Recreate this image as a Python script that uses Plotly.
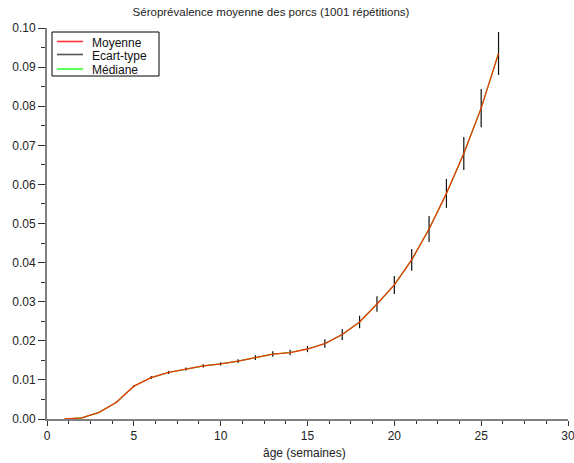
import plotly.graph_objects as go

weeks = list(range(1, 27))
moyenne = [0.0000, 0.0003, 0.0017, 0.0043, 0.0084, 0.0106, 0.0119, 0.0128, 0.0136, 0.0141,
           0.0148, 0.0157, 0.0166, 0.0170, 0.0179, 0.0193, 0.0216, 0.0248, 0.0294, 0.0343,
           0.0407, 0.0486, 0.0577, 0.0679, 0.0795, 0.0935]
mediane = [0.0000, 0.0003, 0.0017, 0.0043, 0.0084, 0.0106, 0.0119, 0.0128, 0.0136, 0.0141,
           0.0148, 0.0157, 0.0166, 0.0170, 0.0179, 0.0193, 0.0216, 0.0248, 0.0294, 0.0343,
           0.0407, 0.0486, 0.0577, 0.0679, 0.0795, 0.0935]
ecart_type = [0.0000, 0.0001, 0.0001, 0.0002, 0.0003, 0.0004, 0.0004, 0.0004, 0.0004, 0.0004,
              0.0005, 0.0006, 0.0007, 0.0007, 0.0008, 0.0011, 0.0014, 0.0016, 0.0020, 0.0023,
              0.0028, 0.0033, 0.0037, 0.0042, 0.0049, 0.0055]

legend_labels = ["Moyenne", "Ecart-type", "Médiane"]
legend_colors = ["#ff3333", "#555555", "#33ff33"]

# error-bar segments built from data
ex, ey = [], []
for w, m, s in zip(weeks, moyenne, ecart_type):
    ex += [w, w, None]
    ey += [m - s, m + s, None]

fig = go.Figure()
fig.add_trace(go.Scatter(x=weeks, y=mediane, mode="lines", name="Médiane",
                         line=dict(color="#22cc00", width=1.2), showlegend=False))
fig.add_trace(go.Scatter(x=ex, y=ey, mode="lines", name="Ecart-type",
                         line=dict(color="#111111", width=1.2), showlegend=False))
fig.add_trace(go.Scatter(x=weeks, y=moyenne, mode="lines", name="Moyenne",
                         line=dict(color="#ee3a0c", width=1.3), showlegend=False))

W, H = 574, 463
L, R, T, B = 47, 6, 28, 44
PW, PH = W - L - R, H - T - B


def px(x):
    return (x - L) / PW


def py(y):
    return (H - B - y) / PH


font = "Liberation Sans, Arial, sans-serif"
shapes = [dict(type="rect", xref="paper", yref="paper", x0=px(52), x1=px(159),
               y0=py(76), y1=py(32), line=dict(color="#000", width=1),
               fillcolor="white", layer="above")]
annotations = []
line_rows = [41.5, 54.5, 69]
text_rows = [43.5, 56.5, 70]
for lab, col, lr, tr in zip(legend_labels, legend_colors, line_rows, text_rows):
    shapes.append(dict(type="line", xref="paper", yref="paper", x0=px(57), x1=px(83),
                       y0=py(lr), y1=py(lr), line=dict(color=col, width=1.6), layer="above"))
    annotations.append(dict(text=lab, xref="paper", yref="paper", x=px(90), y=py(tr),
                            xanchor="left", yanchor="middle", showarrow=False,
                            font=dict(size=12, color="#111", family=font)))
annotations.append(dict(text="âge (semaines)", xref="paper", yref="paper",
                        x=px(304), y=py(453), xanchor="center", yanchor="middle",
                        showarrow=False, font=dict(size=12, color="#222", family=font)))

fig.update_layout(
    width=W, height=H, autosize=False,
    margin=dict(l=L, r=R, t=T, b=B, pad=0),
    paper_bgcolor="white", plot_bgcolor="white",
    font=dict(family=font, size=12, color="#222"),
    title=dict(text="Séroprévalence moyenne des porcs (1001 répétitions)",
               x=271 / W, xanchor="center", xref="container",
               y=1 - 12 / H, yanchor="middle", yref="container",
               font=dict(size=11.5, color="#222")),
    showlegend=False,
    shapes=shapes,
    annotations=annotations,
    xaxis=dict(range=[0, 30], dtick=5, tick0=0, showgrid=False, zeroline=False,
               showline=True, linecolor="#808080", linewidth=2, automargin=False,
               ticks="outside", ticklen=5, tickcolor="#333", tickwidth=1,
               ticklabeloverflow="allow",
               minor=dict(dtick=1.25, ticks="outside", ticklen=3, tickcolor="#333", showgrid=False),
               tickfont=dict(size=12)),
    yaxis=dict(range=[0, 0.1], dtick=0.01, tick0=0, tickformat=".2f", showgrid=False,
               zeroline=False, showline=True, linecolor="#808080", linewidth=2, automargin=False,
               ticks="outside", ticklen=7, tickcolor="#333", tickwidth=1,
               ticklabeloverflow="allow",
               minor=dict(dtick=0.005, ticks="outside", ticklen=4, tickcolor="#333", showgrid=False),
               tickfont=dict(size=12)),
)
fig.write_html("out.html", config={"displayModeBar": False},
               post_script="document.body.style.margin='0';document.body.style.overflow='hidden';")
